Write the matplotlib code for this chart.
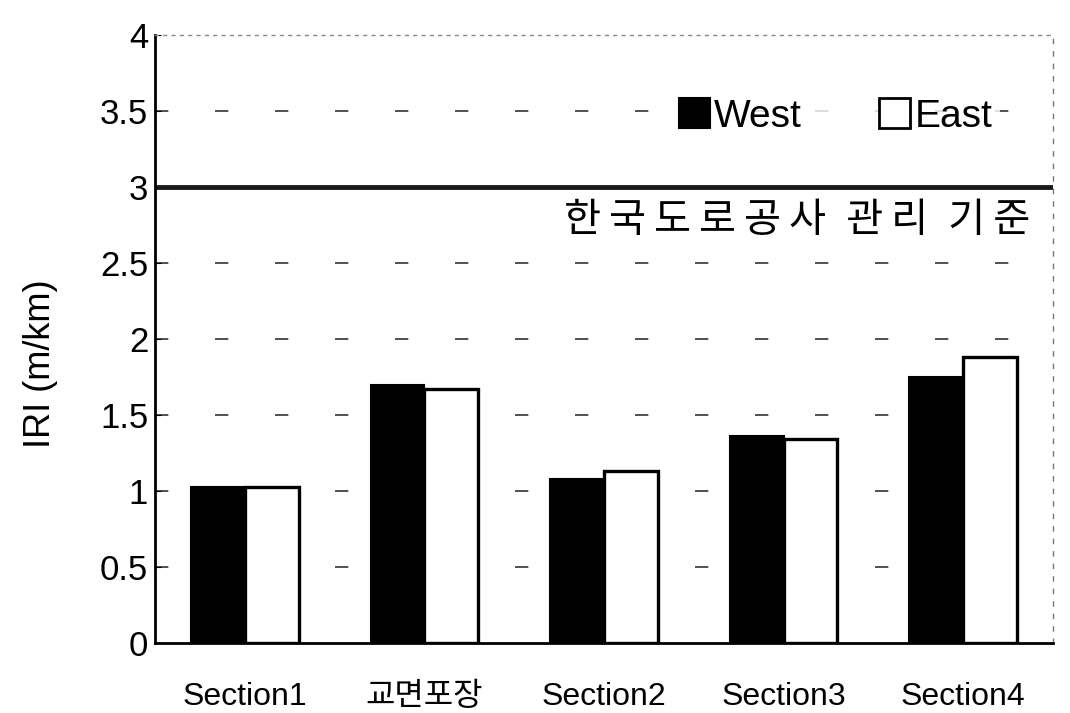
import numpy as np
import matplotlib
matplotlib.use("Agg")
import matplotlib.pyplot as plt
from matplotlib.patches import Patch

plt.rcParams['font.family'] = ['Liberation Sans', 'Noto Sans CJK KR', 'DejaVu Sans']

# data
categories = ['Section1', '교면포장', 'Section2', 'Section3', 'Section4']
west = [1.03, 1.70, 1.08, 1.36, 1.75]
east = [1.03, 1.67, 1.13, 1.34, 1.88]
standard_value = 3.0
standard_words = ['한국도로공사', '관리', '기준']
y_ticks = [0, 0.5, 1, 1.5, 2, 2.5, 3, 3.5, 4]
y_tick_labels = ['0', '0.5', '1', '1.5', '2', '2.5', '3', '3.5', '4']

fig = plt.figure(figsize=(10.7, 7.13), dpi=100)
ax = fig.add_axes([0.145, 0.098, 0.839, 0.853])

x = np.arange(len(categories))
width = 0.3

ax.bar(x - width / 2, west, width, color='black', edgecolor='black', linewidth=1.5, zorder=3)
ax.bar(x + width / 2, east, width, color='white', edgecolor='black', linewidth=2.4, zorder=3)

# sparse dashed grid lines
for yv in y_ticks[1:-1]:
    if yv == standard_value:
        continue
    ax.axhline(yv, color='#333333', linewidth=1.2, linestyle=(0, (8, 28)), zorder=1)

# standard line and its label (letter-spaced like the original)
ax.axhline(standard_value, color='#1a1a1a', linewidth=3.5, zorder=2)
spaced = '\u2002'.join('\u2009'.join(w) for w in standard_words)
ax.text(0.975, 0.695, spaced, transform=ax.transAxes, ha='right', va='center',
        fontsize=29, family=['Noto Sans CJK KR', 'DejaVu Sans'])

ax.set_xlim(-0.5, len(categories) - 0.5)
ax.set_ylim(0, 4)
ax.set_yticks(y_ticks)
ax.set_yticklabels(y_tick_labels, fontsize=25)
ax.set_xticks(x)
ax.set_xticklabels(categories, fontsize=23)
ax.tick_params(axis='x', length=0, pad=28)
ax.tick_params(axis='y', direction='in', length=4, pad=5)
ax.set_ylabel('IRI (m/km)', fontsize=26)
ax.yaxis.set_label_coords(-0.108, 0.46)

for side in ['left', 'bottom']:
    ax.spines[side].set_linewidth(2)
    ax.spines[side].set_color('black')
ax.spines['top'].set_linestyle((0, (2, 4)))
ax.spines['top'].set_color('#888888')
ax.spines['top'].set_linewidth(1)
ax.spines['right'].set_linestyle((0, (3, 6)))
ax.spines['right'].set_color('#777777')
ax.spines['right'].set_linewidth(1)

handles = [Patch(facecolor='black', edgecolor='black', linewidth=1.5, label='West'),
           Patch(facecolor='white', edgecolor='black', linewidth=2, label='East')]
leg = ax.legend(handles=handles, loc='center right', bbox_to_anchor=(0.941, 0.866),
                ncol=2, frameon=True, fontsize=28, handlelength=0.8, handleheight=0.8,
                handletextpad=0.1, columnspacing=2.0, borderaxespad=0, borderpad=0.2)
leg.get_frame().set_facecolor('white')
leg.get_frame().set_edgecolor('none')
leg.set_zorder(5)

fig.savefig('out.png', dpi=100)
